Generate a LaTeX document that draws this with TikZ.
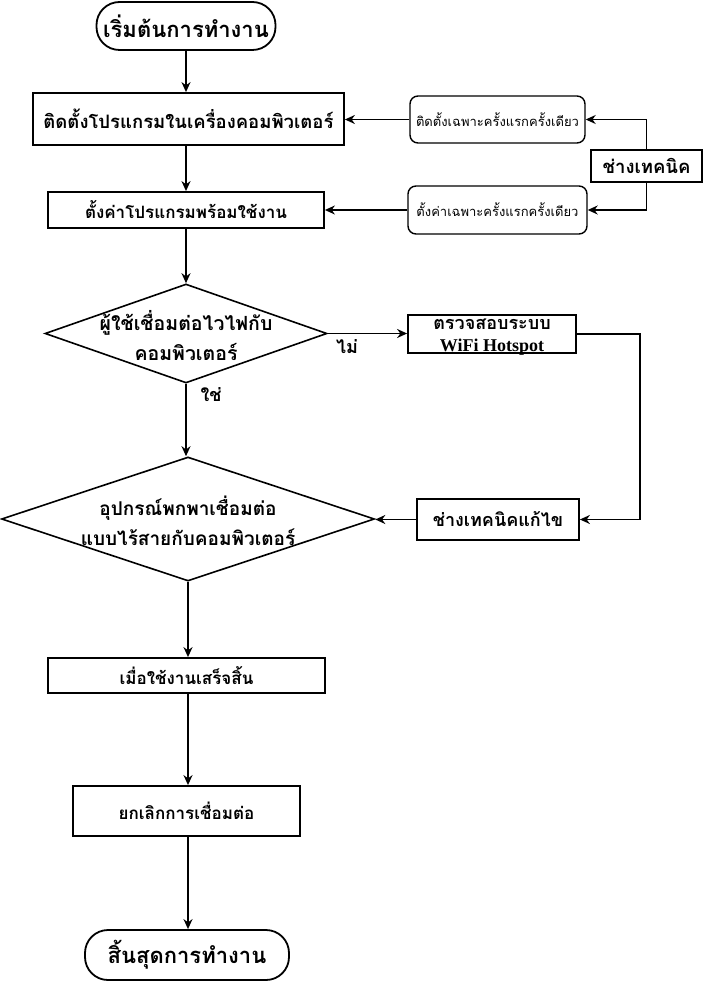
\documentclass[tikz,border=0pt]{standalone}
\usepackage{fontspec}
\usetikzlibrary{shapes.geometric,arrows.meta}
\newfontfamily\thai[Script=Thai]{Loma}
\newfontfamily\serifen{Liberation Serif}
\newcommand\mytight{\lineskiplimit=-50pt\relax}
\begin{document}
\begin{tikzpicture}[x=1pt,y=-1pt,
  term/.style={draw, line width=1.8pt, rounded corners=23pt, inner sep=0pt,
    font=\thai\bfseries\fontsize{22}{24}\selectfont},
  procbox/.style={draw, line width=1.8pt, inner sep=0pt,
    font=\thai\bfseries\fontsize{17}{20}\selectfont},
  sbox/.style={draw, line width=1.8pt, inner sep=0pt, align=center,
    font=\thai\bfseries\fontsize{18}{22}\selectfont\mytight},
  note/.style={draw, line width=1.4pt, rounded corners=8pt, inner sep=0pt,
    font=\thai\fontsize{13}{15}\selectfont},
  decision/.style={draw, diamond, line width=1.6pt, inner sep=0pt},
  dtext/.style={inner sep=0pt, align=center, text depth=0pt},
  lbl/.style={inner sep=0pt, font=\thai\bfseries\fontsize{18}{20}\selectfont},
  flow/.style={line width=1.8pt, -{Stealth[length=10pt,width=9pt]}},
  thin/.style={line width=1.6pt, -{Stealth[length=10pt,width=9pt]}}
]
\useasboundingbox (0,0) rectangle (704,981);
\fill[white] (0,0) rectangle (704,981);

\node[term, minimum width=179pt, minimum height=48pt] (start) at (186,26) {เริ่มต้นการทำงาน};
\node[procbox, minimum width=311pt, minimum height=52pt, font=\thai\bfseries\fontsize{18.5}{20}\selectfont] (b1) at (188.5,119) {ติดตั้งโปรแกรมในเครื่องคอมพิวเตอร์};
\node[procbox, minimum width=276pt, minimum height=36pt] (b2) at (186,210) {ตั้งค่าโปรแกรมพร้อมใช้งาน};
\node[decision, minimum width=282pt, minimum height=99pt,
  label={[dtext, text height=53pt, font=\thai\bfseries\fontsize{19.5}{30}\selectfont\mytight]center:{ผู้ใช้เชื่อมต่อไวไฟกับ\\คอมพิวเตอร์}}] (d1) at (186,333.5) {};
\node[sbox, minimum width=168pt, minimum height=38pt, text height=34pt, text depth=0pt] (chk) at (492,334) {ตรวจสอบระบบ\\{\serifen\bfseries WiFi Hotspot}};
\node[sbox, minimum width=162pt, minimum height=41pt] (fix) at (498,519.5) {ช่างเทคนิคแก้ไข};
\node[decision, minimum width=373pt, minimum height=124pt,
  label={[dtext, text height=52pt, font=\thai\bfseries\fontsize{19}{30}\selectfont\mytight]center:{อุปกรณ์พกพาเชื่อมต่อ\\แบบไร้สายกับคอมพิวเตอร์}}] (d2) at (188,519) {};
\node[procbox, minimum width=277pt, minimum height=35pt] (done) at (186.5,675.5) {เมื่อใช้งานเสร็จสิ้น};
\node[procbox, minimum width=227pt, minimum height=50pt] (cancel) at (186.5,811) {ยกเลิกการเชื่อมต่อ};
\node[term, minimum width=204pt, minimum height=50pt] (end) at (187,955) {สิ้นสุดการทำงาน};

\node[note, minimum width=175pt, minimum height=47pt] (n1) at (497.5,119.5) {ติดตั้งเฉพาะครั้งแรกครั้งเดียว};
\node[note, minimum width=179pt, minimum height=48pt] (n2) at (497.5,210) {ตั้งค่าเฉพาะครั้งแรกครั้งเดียว};
\node[procbox, minimum width=111pt, minimum height=32pt, font=\thai\bfseries\fontsize{18.5}{20}\selectfont] (tech) at (646.5,166) {ช่างเทคนิค};

\node[lbl] (no) at (347,347) {ไม่};
\node[lbl] (yes) at (211,395) {ใช่};

\coordinate (r1) at (640,334);

\draw[flow] (start.south) -- (start.south |- b1.north);
\draw[flow] (b2.north |- b1.south) -- (b2.north);
\draw[flow] (b2.south) -- (b2.south |- d1.north);
\draw[flow] (d1.east) -- (d1.east -| chk.west);
\draw[flow] (chk.east) -- (r1) |- (fix.east);
\draw[flow] (fix.west) -- (fix.west -| d2.east);
\draw[flow] (d1.south) -- (d1.south |- d2.north);
\draw[flow] (d2.south) -- (d2.south |- done.north);
\draw[flow] (d2.south |- done.south) -- (d2.south |- cancel.north);
\draw[flow] (d2.south |- cancel.south) -- (d2.south |- end.north);
\draw[thin] (n1.west) -- (n1.west -| b1.east);
\draw[thin] (n2.west) -- (n2.west -| b2.east);
\draw[thin] (tech.north) |- (n1.east);
\draw[thin] (tech.south) |- (n2.east);
\end{tikzpicture}
\end{document}
